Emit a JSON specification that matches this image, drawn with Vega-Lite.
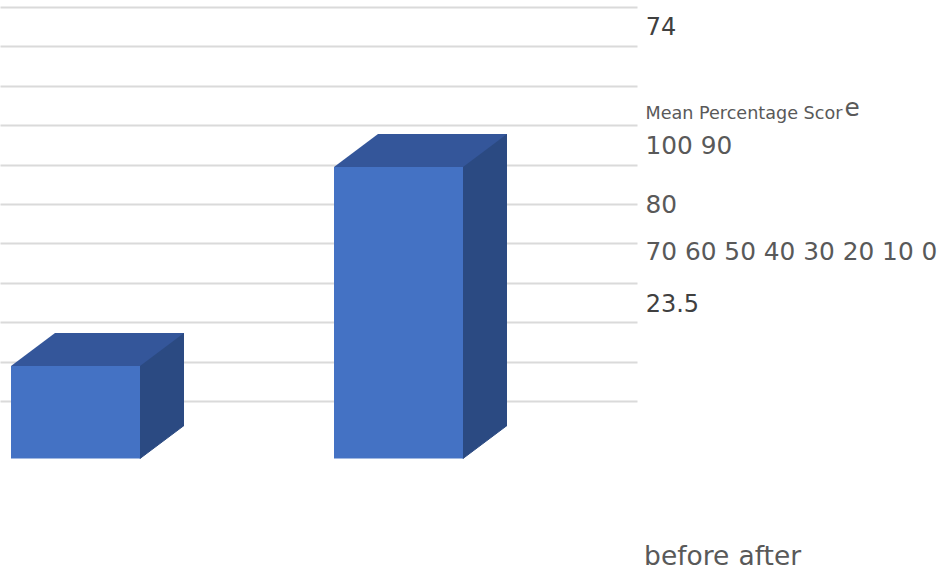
{
  "$schema": "https://vega.github.io/schema/vega-lite/v6.json",
  "width": 637,
  "height": 401,
  "autosize": {"type": "none"},
  "padding": {"left": 0, "top": 0, "right": 304, "bottom": 166},
  "background": "white",
  "config": {"view": {"stroke": null}, "font": "DejaVu Sans"},
  "data": {
    "values": [
      {"phase": "before", "score": 23.5},
      {"phase": "after", "score": 74}
    ]
  },
  "encoding": {
    "x": {
      "field": "phase",
      "type": "nominal",
      "sort": ["before", "after"],
      "scale": {"type": "point", "padding": 0.48607, "align": 0.24045},
      "axis": {
        "title": null,
        "domain": false,
        "ticks": false,
        "tickSize": 0,
        "grid": false,
        "labelAngle": 0,
        "labelAlign": "left",
        "labelBaseline": "alphabetic",
        "labelPadding": 163,
        "labelFont": "DejaVu Sans",
        "labelFontSize": 26.5,
        "labelColor": "#595959",
        "labelLimit": 0,
        "labelOverlap": false,
        "labelBound": false,
        "labelFlush": false,
        "labelOffset": {"condition": {"test": "datum.value === 'before'", "value": 568.1}, "value": 339.4}
      }
    }
  },
  "layer": [
    {
      "description": "side face of each box (rectangular part)",
      "mark": {"type": "bar", "width": 44, "xOffset": 86.5, "yOffset": 24.5, "y2Offset": 24.5, "color": "#2b4a82"},
      "encoding": {
        "y": {"field": "score", "type": "quantitative", "scale": {"domain": [0, 101.8], "nice": false, "zero": false}, "axis": null},
        "y2": {"datum": 0}
      }
    },
    {
      "description": "side face of each box (lower slanted corner)",
      "mark": {
        "type": "point",
        "shape": "M0.645,-0.33L0.645,0L1.085,-0.33Z",
        "size": 40000,
        "filled": true,
        "opacity": 1,
        "color": "#2b4a82",
        "stroke": "#2b4a82",
        "strokeWidth": 1,
        "strokeJoin": "round",
        "yOffset": 57.5
      },
      "encoding": {
        "y": {"datum": 0, "type": "quantitative", "scale": {"domain": [0, 101.8], "nice": false, "zero": false}, "axis": null}
      }
    },
    {
      "description": "top face of each box, plus the value axis text on the right",
      "mark": {
        "type": "point",
        "shape": "M-0.645,0L-0.205,-0.33L1.085,-0.33L0.645,0Z",
        "size": 40000,
        "filled": true,
        "opacity": 1,
        "color": "#34569a",
        "strokeWidth": 0,
        "yOffset": 57.5
      },
      "encoding": {
        "y": {
          "field": "score",
          "type": "quantitative",
          "scale": {"domain": [0, 101.8], "nice": false, "zero": false},
          "axis": {
            "orient": "right",
            "title": null,
            "domain": false,
            "ticks": false,
            "tickSize": 0,
            "grid": false,
            "values": [72.48, 71.72, 62.71, 47.73, 35.92],
            "labelExpr": "datum.value > 72 ? 'e' : datum.value > 70 ? 'Mean Percentage Scor' : datum.value > 60 ? '100 90' : datum.value > 45 ? '80' : '70 60 50 40 30 20 10 0'",
            "labelAlign": "left",
            "labelBaseline": "alphabetic",
            "labelPadding": {"condition": {"test": "datum.value > 72", "value": 207}, "value": 8},
            "labelFont": "DejaVu Sans",
            "labelFontSize": {"condition": {"test": "datum.value > 70 && datum.value < 72", "value": 17.6}, "value": 24.8},
            "labelColor": "#595959",
            "labelLimit": 0,
            "labelOverlap": false,
            "labelBound": false,
            "labelFlush": false
          }
        }
      }
    },
    {
      "description": "front face of each box, plus the horizontal gridlines",
      "mark": {"type": "bar", "width": 129, "yOffset": 57.5, "y2Offset": 57.5, "color": "#4472c4"},
      "encoding": {
        "y": {
          "field": "score",
          "type": "quantitative",
          "scale": {"domain": [0, 101.8], "nice": false, "zero": false},
          "axis": {
            "orient": "left",
            "title": null,
            "values": [0, 10, 20, 30, 40, 50, 60, 70, 80, 90, 100],
            "grid": true,
            "gridColor": "#dadada",
            "gridWidth": 2,
            "labels": false,
            "ticks": false,
            "domain": false
          }
        },
        "y2": {"datum": 0}
      }
    },
    {
      "description": "data labels",
      "mark": {"type": "text", "align": "left", "baseline": "alphabetic", "dx": 8.7, "font": "DejaVu Sans", "fontSize": 24, "color": "#404040"},
      "encoding": {
        "x": {"value": "width"},
        "y": {"field": "score", "type": "quantitative", "scale": {"domain": [7.39, 80.36], "nice": false, "zero": false}, "axis": null},
        "text": {"field": "score", "type": "quantitative", "format": ".3~g"}
      }
    }
  ],
  "resolve": {"scale": {"y": "independent"}}
}
